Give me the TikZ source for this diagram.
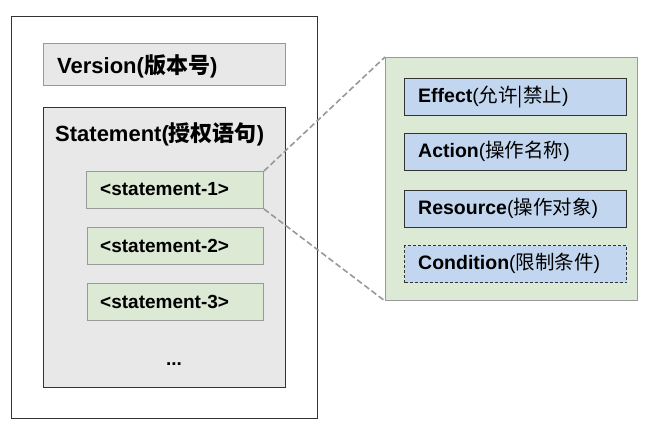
\documentclass[tikz,border=0pt]{standalone}
\usepackage{fontspec}
\setmainfont{Liberation Sans}
\newfontfamily\cjk{Noto Sans CJK SC}
\definecolor{gfill}{HTML}{E8E8E8}
\definecolor{grfill}{HTML}{DCE9D5}
\definecolor{blfill}{HTML}{C2D7EF}
\definecolor{lbord}{HTML}{999999}
\definecolor{dbord}{HTML}{333333}
\begin{document}
\begin{tikzpicture}[x=1pt,y=-1pt,
  box/.style={draw, line width=1pt, inner sep=0pt},
  lbl/.style={anchor=west, inner sep=0pt, font=\fontsize{19.5}{22}\selectfont},
  slbl/.style={anchor=west, inner sep=0pt, font=\fontsize{19}{22}\selectfont\bfseries},
  ttl/.style={anchor=west, inner sep=0pt, font=\fontsize{22}{26}\selectfont\bfseries},
  conn/.style={draw=lbord, dashed, line width=1.6pt, dash pattern=on 6pt off 3pt}]
\useasboundingbox (0,0) rectangle (648,428);
% outer
\draw[dbord, line width=1pt, fill=white] (11,17) rectangle (317,418);
% version
\draw[lbord, line width=1pt, fill=gfill] (43,44) rectangle (285,86);
\node[ttl] (ver) at (57,66) {Version({\cjk 版本号})};
% statement
\draw[dbord, line width=1pt, fill=gfill] (43,107) rectangle (285,387);
\node[ttl] (stt) at (55,134) {Statement({\cjk 授权语句})};
\node[box, draw=lbord, fill=grfill, minimum width=177pt, minimum height=37pt, anchor=north west] (s1) at (86,171) {};
\node[slbl] (s1t) at (100,189.5) {<statement-1>};
\node[box, draw=lbord, fill=grfill, minimum width=176pt, minimum height=37pt, anchor=north west] (s2) at (87,227) {};
\node[slbl] (s2t) at (100,245.5) {<statement-2>};
\node[box, draw=lbord, fill=grfill, minimum width=176pt, minimum height=37pt, anchor=north west] (s3) at (87,283) {};
\node[slbl] (s3t) at (100,301.5) {<statement-3>};
\node[inner sep=0pt, font=\fontsize{19}{22}\selectfont\bfseries] (dots) at (174,364) {...};
% right box
\node[box, draw=lbord, fill=grfill, minimum width=252pt, minimum height=243pt, anchor=north west] (rb) at (385,57) {};
\node[box, draw=dbord, fill=blfill, minimum width=222pt, minimum height=37pt, anchor=north west] (ef) at (404,78) {};
\node[lbl] (eft) at (418,96.5) {\textbf{Effect}({\cjk 允许|禁止})};
\node[box, draw=dbord, fill=blfill, minimum width=222pt, minimum height=37pt, anchor=north west] (ac) at (404,133) {};
\node[lbl] (act) at (418,151.5) {\textbf{Action}({\cjk 操作名称})};
\node[box, draw=dbord, fill=blfill, minimum width=222pt, minimum height=37pt, anchor=north west] (rs) at (404,190) {};
\node[lbl] (rst) at (418,208.5) {\textbf{Resource}({\cjk 操作对象})};
\node[box, draw=dbord, dashed, dash pattern=on 3pt off 2pt, fill=blfill, minimum width=222pt, minimum height=37pt, anchor=north west] (cd) at (404,245) {};
\node[lbl] (cdt) at (418,263.5) {\textbf{Condition}({\cjk 限制条件})};
% connectors
\draw[conn] (s1.north east) -- (rb.north west);
\draw[conn] (s1.south east) -- (rb.south west);
\end{tikzpicture}
\end{document}
